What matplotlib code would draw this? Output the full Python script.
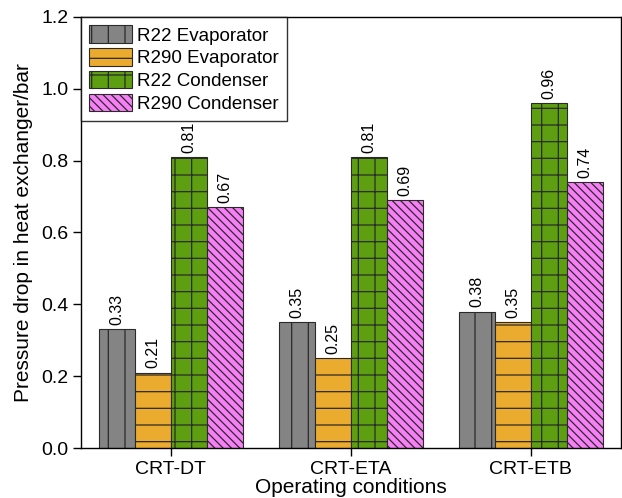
import matplotlib.pyplot as plt
import numpy as np

plt.rcParams['font.family'] = ['Liberation Sans', 'DejaVu Sans']
plt.rcParams['hatch.linewidth'] = 0.9

conditions = ['CRT-DT', 'CRT-ETA', 'CRT-ETB']
series_names = ['R22 Evaporator', 'R290 Evaporator', 'R22 Condenser', 'R290 Condenser']
r22_evap = [0.33, 0.35, 0.38]
r290_evap = [0.21, 0.25, 0.35]
r22_cond = [0.81, 0.81, 0.96]
r290_cond = [0.67, 0.69, 0.74]

colors = ['#848484', '#EBAB2F', '#5E9F12', '#F77FF5']
hatches = ['|', '-', '+', '\\\\\\\\']

fig = plt.figure(figsize=(6.22, 4.98), dpi=100)
ax = fig.add_axes([0.130, 0.1004, 0.868, 0.8655])

x = np.arange(len(conditions))
width = 0.2
all_series = [r22_evap, r290_evap, r22_cond, r290_cond]
for i, vals in enumerate(all_series):
    pos = x + (i - 1.5) * width
    bars = ax.bar(pos, vals, width, color=colors[i], edgecolor='#2a2a2a',
                  hatch=hatches[i], linewidth=0.8, label=series_names[i])
    for b, v in zip(bars, vals):
        ax.text(b.get_x() + b.get_width() / 2, v + 0.012, '%.2f' % v,
                rotation=90, ha='center', va='bottom', fontsize=11.5)

ax.set_xlim(-0.5, 2.5)
ax.set_ylim(0, 1.2)
ax.set_yticks(np.arange(0, 1.21, 0.2))
ax.set_yticklabels(['%.1f' % t for t in np.arange(0, 1.21, 0.2)])
ax.set_xticks(x)
ax.set_xticklabels(conditions)
ax.tick_params(axis='both', labelsize=14, direction='out', length=6, width=1, pad=3)
ax.set_xlabel('Operating conditions', fontsize=15, labelpad=0)
ax.set_ylabel('Pressure drop in heat exchanger/bar', fontsize=15, labelpad=6)
for s in ax.spines.values():
    s.set_linewidth(1)

leg = ax.legend(loc='upper left', fontsize=13.5, handlelength=2.3, handleheight=1.05,
                labelspacing=0.2, borderpad=0.45, handletextpad=0.25,
                borderaxespad=0.0, fancybox=False, edgecolor='black')
leg.get_frame().set_linewidth(1)

fig.savefig('out.png', dpi=100)
